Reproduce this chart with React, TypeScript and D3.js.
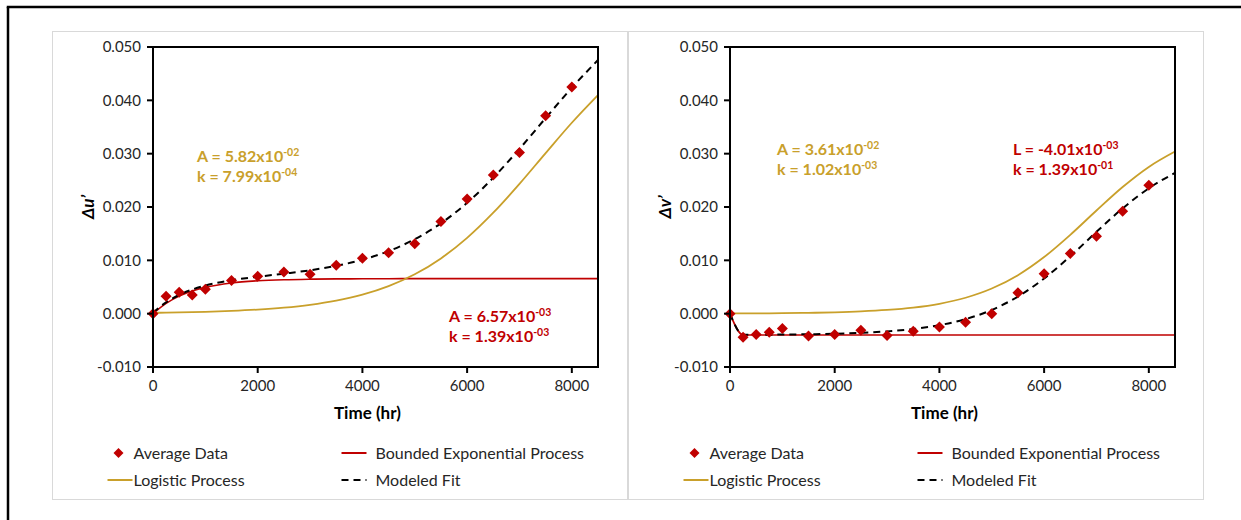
import React from 'react';
import * as d3 from 'd3';

// measured times (hr) for the averaged data
const dataTimes = [0, 250, 500, 750, 1000, 1500, 2000, 2500, 3000, 3500, 4000, 4500, 5000, 5500, 6000, 6500, 7000, 7500, 8000];
const avgU = [0, 0.00325, 0.0040, 0.0035, 0.0046, 0.0062, 0.0070, 0.0078, 0.0074, 0.0091, 0.0104, 0.0114, 0.0131, 0.0173, 0.0215, 0.0260, 0.0302, 0.0371, 0.0425];
const avgV = [0, -0.0044, -0.0039, -0.0035, -0.0028, -0.0042, -0.0039, -0.0031, -0.0041, -0.0033, -0.0025, -0.0016, 0.0000, 0.0039, 0.0075, 0.0113, 0.0145, 0.0192, 0.0241];

// times where the model curves were read
const fitTimes = [0, 250, 500, 750, 1000, 1500, 2000, 2500, 3000, 3500, 4000, 4500, 5000, 5500, 6000, 6500, 7000, 7500, 8000, 8500];
const boundedU = [0, 0.00193, 0.00329, 0.00425, 0.00493, 0.00575, 0.00616, 0.00637, 0.00647, 0.00652, 0.00654, 0.00656, 0.00657, 0.00657, 0.00657, 0.00657, 0.00657, 0.00657, 0.00657, 0.00657];
const logisticU = [0.000155, 0.00019, 0.000231, 0.000282, 0.000344, 0.000512, 0.00076, 0.001126, 0.001663, 0.002445, 0.003571, 0.005169, 0.007386, 0.010365, 0.014213, 0.018927, 0.024331, 0.030103, 0.035793, 0.040986];
const modeledU = [0.000155, 0.00212, 0.00352, 0.00453, 0.00527, 0.00626, 0.00692, 0.0075, 0.00813, 0.00897, 0.01011, 0.01173, 0.01396, 0.01694, 0.02078, 0.0255, 0.0309, 0.03667, 0.04236, 0.04756];
const boundedV = [0, -0.00401, -0.00401, -0.00401, -0.00401, -0.00401, -0.00401, -0.00401, -0.00401, -0.00401, -0.00401, -0.00401, -0.00401, -0.00401, -0.00401, -0.00401, -0.00401, -0.00401, -0.00401, -0.00401];
const logisticV = [0.000033, 0.000043, 0.000055, 0.000071, 0.000091, 0.000152, 0.000252, 0.000418, 0.000692, 0.001137, 0.001854, 0.002986, 0.004713, 0.00722, 0.010614, 0.014783, 0.019346, 0.02375, 0.027515, 0.0304];
const modeledV = [0.000033, -0.00397, -0.00396, -0.00394, -0.00392, -0.00386, -0.00376, -0.00359, -0.00332, -0.00287, -0.00216, -0.00102, 0.0007, 0.00321, 0.0066, 0.01077, 0.01534, 0.01974, 0.02351, 0.02639];

const xTicks = [0, 2000, 4000, 6000, 8000];
const yTicks = [-0.01, 0, 0.01, 0.02, 0.03, 0.04, 0.05];
const legendLabels = ['Average Data', 'Bounded Exponential Process', 'Logistic Process', 'Modeled Fit'];

// fitted parameters written on each panel
const notesU = [
  { lines: [['A = 5.82x10', '-02'], ['k = 7.99x10', '-04']], kind: 'logistic', dx: 44, y: 162 },
  { lines: [['A = 6.57x10', '-03'], ['k = 1.39x10', '-03']], kind: 'bounded', dx: 296, y: 322 },
];
const notesV = [
  { lines: [['A = 3.61x10', '-02'], ['k = 1.02x10', '-03']], kind: 'logistic', dx: 47, y: 155 },
  { lines: [['L = -4.01x10', '-03'], ['k = 1.39x10', '-01']], kind: 'bounded', dx: 283, y: 155 },
];

const RED = '#C00000';
const GOLD = '#C9A02B';
const FONT = "Lato, 'Open Sans', sans-serif";

const diamond = (r) => `M0,${-r}L${r},0L0,${r}L${-r},0Z`;
const fmt = d3.formatLocale({ decimal: '.', thousands: ',', grouping: [3], currency: ['', ''], minus: '-' }).format('.3f');

function Panel({ boxX, plotLeft, yTitle, avg, bounded, logistic, modeled, notes }) {
  const plotRight = plotLeft + 445;
  const x = d3.scaleLinear().domain([0, 8500]).range([plotLeft, plotRight]);
  const y = d3.scaleLinear().domain([-0.01, 0.05]).range([367, 47]);

  const line = d3.line<number>()
    .x((_, i) => x(fitTimes[i]))
    .y(d => y(d))
    .curve(d3.curveMonotoneX);

  const lx = boxX;
  return (
    <g fontFamily={FONT}>
      <rect x={boxX} y={31.5} width={575} height={468} fill="#fff" stroke="#d9d9d9" strokeWidth={1} />

      <path d={line(bounded)} fill="none" stroke={RED} strokeWidth={1.6} />
      <path d={line(logistic)} fill="none" stroke={GOLD} strokeWidth={1.8} />
      <path d={line(modeled)} fill="none" stroke="#000" strokeWidth={2} strokeDasharray="7,5" />
      {avg.map((v, i) => (
        <path key={i} d={diamond(5.5)} transform={`translate(${x(dataTimes[i])},${y(v)})`} fill={RED} />
      ))}

      <rect x={plotLeft} y={y(0.05)} width={plotRight - plotLeft} height={y(-0.01) - y(0.05)} fill="none" stroke="#000" strokeWidth={2} />
      {yTicks.map(t => (
        <g key={t}>
          <line x1={plotLeft - 6} x2={plotLeft} y1={y(t)} y2={y(t)} stroke="#000" strokeWidth={2} />
          <text x={plotLeft - 12} y={y(t)} dy="0.35em" textAnchor="end" fontSize={15} fill="#262626">{fmt(t)}</text>
        </g>
      ))}
      {xTicks.map(t => (
        <g key={t}>
          <line x1={x(t)} x2={x(t)} y1={367} y2={373} stroke="#000" strokeWidth={2} />
          <text x={x(t)} y={386} dy="0.35em" textAnchor="middle" fontSize={15} fill="#262626">{t}</text>
        </g>
      ))}
      <text x={(plotLeft + x(8000)) / 2 + 5} y={413} dy="0.35em" textAnchor="middle" fontSize={17} fontWeight="bold" fill="#000">Time (hr)</text>
      <text transform={`translate(${plotLeft - 65},207) rotate(-90)`} dy="0.35em" textAnchor="middle" fontSize={17} fontWeight="bold" fontStyle="italic" fill="#000">{yTitle}</text>

      {notes.map((n, i) => (
        <g key={i} fill={n.kind === 'bounded' ? RED : GOLD} fontSize={16} fontWeight="bold">
          {n.lines.map((l, j) => (
            <text key={j} x={plotLeft + n.dx} y={n.y + j * 20}>
              {l[0]}<tspan dy={-6} fontSize={10.5}>{l[1]}</tspan>
            </text>
          ))}
        </g>
      ))}

      <g fontSize={16} fill="#262626">
        <path d={diamond(5)} transform={`translate(${lx + 66},453)`} fill={RED} />
        <text x={lx + 81} y={453} dy="0.35em">{legendLabels[0]}</text>
        <line x1={lx + 289} x2={lx + 314} y1={453} y2={453} stroke={RED} strokeWidth={2} />
        <text x={lx + 323} y={453} dy="0.35em">{legendLabels[1]}</text>
        <line x1={lx + 55} x2={lx + 80} y1={480} y2={480} stroke={GOLD} strokeWidth={2} />
        <text x={lx + 81} y={480} dy="0.35em">{legendLabels[2]}</text>
        <line x1={lx + 289} x2={lx + 314} y1={480} y2={480} stroke="#000" strokeWidth={2} strokeDasharray="7,5" />
        <text x={lx + 323} y={480} dy="0.35em">{legendLabels[3]}</text>
      </g>
    </g>
  );
}

export default function App() {
  return (
    <div style={{ position: 'fixed', left: 0, top: 0, width: 1241, height: 520, overflow: 'hidden', background: '#fff' }}>
      <svg width={1241} height={520} style={{ display: 'block' }}>
        <rect x={0} y={0} width={1241} height={520} fill="#fff" />
        <line x1={6.75} x2={1241} y1={7} y2={7} stroke="#000" strokeWidth={2.5} />
        <line x1={8} x2={8} y1={7} y2={520} stroke="#000" strokeWidth={2.5} />
        <Panel boxX={52.5} plotLeft={153} yTitle="Δu’" avg={avgU} bounded={boundedU} logistic={logisticU} modeled={modeledU} notes={notesU} />
        <Panel boxX={628.5} plotLeft={730} yTitle="Δv’" avg={avgV} bounded={boundedV} logistic={logisticV} modeled={modeledV} notes={notesV} />
      </svg>
    </div>
  );
}
